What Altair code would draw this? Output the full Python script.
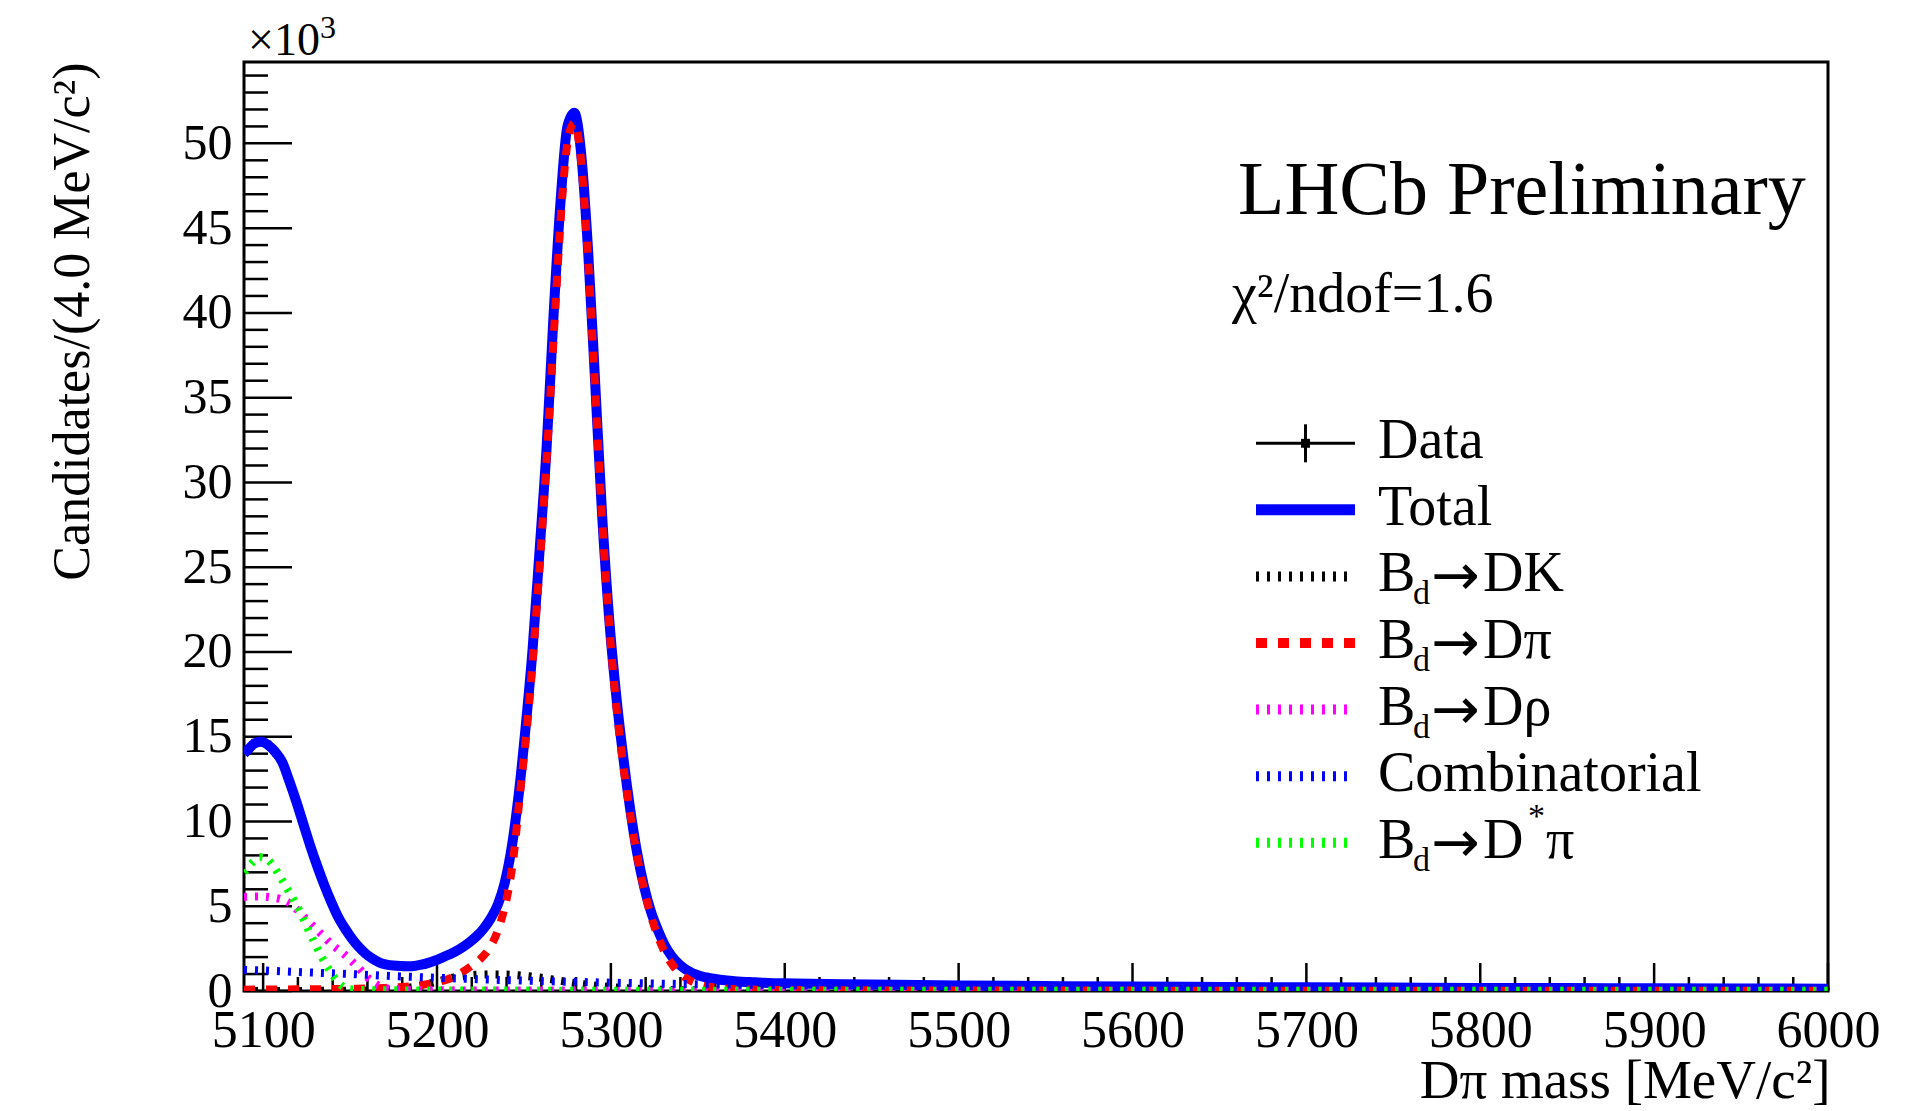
import altair as alt
import pandas as pd
import numpy as np

FONT = "Liberation Serif"
W, H = 1584, 929
XMIN, XMAX = 5089, 6000
YMAX = 54.8

# ---------------- data (values in units of 10^3 candidates) ----------------
# data bins: 4 MeV wide, centres 5091 ... 5999
data_low = [
    14.1, 14.7, 14.6, 14.6, 14.0, 13.6, 12.3, 11.3, 9.8, 8.7,
    7.3, 6.4, 5.2, 4.5, 3.6, 3.1, 2.6, 2.2, 1.9, 1.7,
    1.55, 1.5, 1.46, 1.47, 1.5, 1.54, 1.67, 1.78, 1.99, 2.13,
    2.37, 2.58, 2.92, 3.22, 3.72, 4.28, 5.13, 6.35, 8.55, 11.5,
    15.7, 20.1, 26.1, 31.8, 39.9, 46.3, 51.2, 51.7, 49.4, 43.3,
    36.0, 27.9, 22.1, 17.4, 14.0, 10.7, 8.3, 6.1, 4.75, 3.55,
    2.72, 2.03, 1.62, 1.27, 1.06, 0.89, 0.81, 0.71, 0.67, 0.61,
    0.58, 0.56, 0.52, 0.51, 0.5, 0.47, 0.46, 0.45,
]
data_tail = [
    0.45, 0.44, 0.44, 0.43, 0.42, 0.42, 0.41, 0.41, 0.40, 0.39, 0.39,
    0.38, 0.38, 0.37, 0.37, 0.36, 0.36, 0.35, 0.35, 0.34, 0.34, 0.34, 0.33, 0.33, 0.32,
    0.32, 0.32, 0.31, 0.31, 0.31, 0.30, 0.30, 0.30, 0.29, 0.29, 0.29, 0.28, 0.28, 0.28, 0.28,
    0.27, 0.27, 0.27, 0.27, 0.26, 0.26, 0.26, 0.26, 0.25, 0.25,
    0.25, 0.25, 0.25, 0.24, 0.24, 0.24, 0.24, 0.24, 0.23, 0.23, 0.23, 0.23, 0.23, 0.22, 0.22,
    0.22, 0.22, 0.22, 0.22, 0.21, 0.21, 0.21, 0.21, 0.21, 0.21,
    0.20, 0.20, 0.20, 0.20, 0.20, 0.20, 0.19, 0.19, 0.19, 0.19, 0.19, 0.19, 0.19, 0.18, 0.18,
    0.18, 0.18, 0.18, 0.18, 0.18, 0.17, 0.17, 0.17, 0.17, 0.17,
    0.17, 0.17, 0.17, 0.16, 0.16, 0.16, 0.16, 0.16, 0.16, 0.16, 0.16, 0.16, 0.15, 0.15, 0.15,
    0.15, 0.15, 0.15, 0.15, 0.15, 0.15, 0.15, 0.14, 0.14, 0.14,
    0.14, 0.14, 0.14, 0.14, 0.14, 0.14, 0.14, 0.14, 0.14, 0.13, 0.13, 0.13, 0.13, 0.13, 0.13,
    0.13, 0.13, 0.13, 0.13, 0.13, 0.13, 0.13, 0.13, 0.13, 0.13,
]
data_val = data_low + data_tail
data_mass = [5091 + 4 * i for i in range(len(data_val))]

# total fit
total_low = [
    14.2, 14.6, 14.7, 14.5, 14.1, 13.5, 12.4, 11.2, 9.9, 8.6,
    7.4, 6.3, 5.3, 4.4, 3.7, 3.1, 2.6, 2.2, 1.9, 1.68,
    1.56, 1.5, 1.47, 1.46, 1.48, 1.55, 1.66, 1.8, 1.97, 2.15,
    2.35, 2.6, 2.9, 3.25, 3.7, 4.3, 5.1, 6.4, 8.5, 11.6,
    15.6, 20.2, 26.0, 32.0, 39.8, 46.5, 51.0, 51.8, 49.3, 43.5,
    35.8, 28.0, 22.0, 17.5, 13.9, 10.8, 8.2, 6.2, 4.7, 3.6,
    2.7, 2.05, 1.6, 1.28, 1.05, 0.9, 0.8, 0.72, 0.66, 0.62,
    0.58, 0.55, 0.53, 0.51, 0.49, 0.47, 0.46, 0.45,
]
total_mass = [5089] + [5091 + 4 * i for i in range(len(total_low))] + \
    [5425, 5450, 5500, 5550, 5600, 5650, 5700, 5750, 5800, 5850, 5900, 5950, 6000]
total_val = [14.0] + total_low + \
    [0.41, 0.38, 0.33, 0.29, 0.26, 0.24, 0.22, 0.20, 0.18, 0.17, 0.16, 0.15, 0.14]

# Bd -> DK (misID)
dk_mass = [5089, 5150, 5175, 5190, 5200, 5210, 5220, 5230, 5240, 5250, 5260, 5270,
           5280, 5290, 5300, 5320, 5340, 5370, 5400, 5500, 6000]
dk_val = [0.0, 0.02, 0.1, 0.3, 0.55, 0.8, 0.93, 0.98, 0.97, 0.9, 0.78, 0.62,
          0.46, 0.33, 0.23, 0.11, 0.05, 0.03, 0.02, 0.01, 0.005]

# Bd -> Dpi (signal)
dpi_mass = [5089, 5120, 5150, 5170, 5180, 5190, 5195, 5200, 5205, 5210, 5215, 5220,
            5225, 5230, 5234, 5237, 5240, 5244, 5248, 5252, 5256, 5260, 5264, 5268,
            5272, 5276, 5279, 5282, 5286, 5290, 5294, 5298, 5302, 5306, 5310, 5314,
            5318, 5322, 5326, 5330, 5335, 5340, 5345, 5350, 5360, 5370, 5385, 5400,
            5500, 6000]
dpi_val = [0.08, 0.1, 0.13, 0.18, 0.24, 0.34, 0.42, 0.52, 0.65, 0.85, 1.14, 1.5,
           1.9, 2.5, 3.3, 4.2, 5.4, 7.9, 11.9, 15.8, 20.8, 26.5, 33.0, 40.2,
           46.8, 50.6, 51.2, 49.8, 44.6, 37.3, 29.5, 23.0, 18.0, 14.2, 11.2, 8.6,
           6.5, 4.8, 3.5, 2.5, 1.6, 1.0, 0.65, 0.42, 0.2, 0.12, 0.08, 0.06,
           0.03, 0.01]

# Bd -> Drho
rho_mass = [5089, 5095, 5100, 5105, 5110, 5115, 5120, 5125, 5130, 5135, 5140, 5145,
            5150, 5155, 5160, 5165, 5170, 5175, 5180, 5190, 5200, 5250, 5300, 5400, 6000]
rho_val = [5.55, 5.57, 5.57, 5.52, 5.42, 5.2, 4.75, 4.2, 3.7, 3.2, 2.7, 2.3,
           1.85, 1.35, 0.8, 0.4, 0.18, 0.1, 0.07, 0.05, 0.04, 0.03, 0.02, 0.01, 0.01]

# combinatorial
comb_mass = [5089, 5100, 5125, 5150, 5175, 5200, 5225, 5250, 5275, 5300, 5325, 5350,
             5375, 5400, 5450, 5500, 5550, 5600, 5650, 5700, 5750, 5800, 5850, 5900,
             5950, 6000]
comb_val = [1.25, 1.21, 1.1, 1.0, 0.88, 0.78, 0.69, 0.61, 0.55, 0.49, 0.44, 0.40,
            0.37, 0.35, 0.31, 0.28, 0.25, 0.23, 0.21, 0.20, 0.18, 0.17, 0.16, 0.15,
            0.14, 0.13]

# Bd -> D* pi
dst_mass = [5089, 5094, 5098, 5102, 5106, 5110, 5114, 5118, 5122, 5126, 5130, 5134,
            5138, 5142, 5146, 5150, 5160, 5200, 5300, 6000]
dst_val = [7.0, 7.6, 7.9, 7.8, 7.35, 6.7, 6.0, 5.3, 4.5, 3.6, 2.75, 1.95,
           1.25, 0.65, 0.25, 0.1, 0.05, 0.03, 0.02, 0.01]

x_major = list(range(5100, 6001, 100))
y_major = list(range(0, 51, 5))

# ---------------- scales & axes ----------------
xs = alt.Scale(domain=[XMIN, XMAX], nice=False, zero=False)
ys = alt.Scale(domain=[0, YMAX], nice=False, zero=False)

X_AX = alt.Axis(
    values=x_major, format="d", ticks=False, domain=False, grid=False,
    labelFont=FONT, labelFontSize=52, labelColor="black", labelPadding=14,
    labelFlush=False, labelOverlap=False,
    title="Dπ mass [MeV/c²]", titleFont=FONT, titleFontSize=55,
    titleFontWeight="normal", titleColor="black", titleAnchor="end",
    titleAlign="right", titleBaseline="alphabetic", titleX=W + 2, titleY=106)
Y_AX = alt.Axis(
    values=y_major, format="d", ticks=False, domain=False, grid=False,
    labelFont=FONT, labelFontSize=50, labelColor="black", labelPadding=12,
    labelFlush=False, labelOverlap=False,
    title="Candidates/(4.0 MeV/c²)", titleFont=FONT, titleFontSize=52,
    titleFontWeight="normal", titleColor="black", titleAngle=270,
    titleAlign="right", titleBaseline="alphabetic", titleX=-156, titleY=0)


def X(field):
    return alt.X(field, type="quantitative", scale=xs, axis=X_AX, title="Dπ mass [MeV/c²]")


def Y(field):
    return alt.Y(field, type="quantitative", scale=ys, axis=Y_AX,
                 title="Candidates/(4.0 MeV/c²)")


BLUE, RED, MAG, GREEN = "#0000ff", "#ff0000", "#ff00ff", "#00ff00"
DOT = [3, 8]
DASH = [11, 11]


def curve(mass, val, color, width, dash=None):
    df = pd.DataFrame({"m": mass, "v": val})
    kw = dict(color=color, strokeWidth=width, interpolate="monotone", clip=True,
              strokeCap="butt", strokeJoin="round")
    if dash:
        kw["strokeDash"] = dash
    return alt.Chart(df).mark_line(**kw).encode(x=X("m"), y=Y("v"))


# data points with error bars
ddf = pd.DataFrame({"m": data_mass, "v": data_val})
ddf["lo"] = ddf["v"] - np.sqrt(ddf["v"] * 1000) / 1000
ddf["hi"] = ddf["v"] + np.sqrt(ddf["v"] * 1000) / 1000
ddf["mlo"] = ddf["m"] - 2
ddf["mhi"] = ddf["m"] + 2
data_y = alt.Chart(ddf).mark_rule(color="black", strokeWidth=2).encode(
    x=X("m"), y=Y("lo"), y2="hi:Q")
data_x = alt.Chart(ddf).mark_rule(color="black", strokeWidth=2).encode(
    x=X("mlo"), x2="mhi:Q", y=Y("v"))
data_pt = alt.Chart(ddf).mark_square(color="black", size=36, opacity=1).encode(
    x=X("m"), y=Y("v"))

# inward ticks
ymaj_df = pd.DataFrame({"v": y_major})
ymin_df = pd.DataFrame({"v": [v for v in range(1, 55) if v % 5]})
xmaj_df = pd.DataFrame({"m": x_major})
xmin_df = pd.DataFrame({"m": [v for v in range(5100, 6001, 20) if v % 100]})
tk = dict(color="black", strokeWidth=2.5)
ytick_maj = alt.Chart(ymaj_df).mark_rule(**tk).encode(
    y=Y("v"), x=alt.value(0), x2=alt.value(48))
ytick_min = alt.Chart(ymin_df).mark_rule(**tk).encode(
    y=Y("v"), x=alt.value(0), x2=alt.value(24))
xtick_maj = alt.Chart(xmaj_df).mark_rule(**tk).encode(
    x=X("m"), y=alt.value(H), y2=alt.value(H - 28))
xtick_min = alt.Chart(xmin_df).mark_rule(**tk).encode(
    x=X("m"), y=alt.value(H), y2=alt.value(H - 14))

one = pd.DataFrame({"a": [0]})


def txt(s, x, y, size, align="left", baseline="alphabetic", font=FONT):
    return alt.Chart(one).mark_text(
        text=s, font=font, fontSize=size, color="black", align=align,
        baseline=baseline).encode(x=alt.value(x), y=alt.value(y))


def hline(x1, x2, y, color, width, dash=None):
    kw = dict(color=color, strokeWidth=width, strokeCap="butt")
    if dash:
        kw["strokeDash"] = dash
    return alt.Chart(one).mark_rule(**kw).encode(
        x=alt.value(x1), x2=alt.value(x2), y=alt.value(y))


# labels
labels = [
    txt("LHCb Preliminary", 994, 152, 76),
    txt("χ²/ndof=1.6", 988, 250, 56),
    txt("×10", 4, -7, 46),
    txt("3", 76, -24, 32),
]

# legend
LX1, LX2, TX = 1012, 1111, 1134
R0, STEP = 381.3, 66.57
FS, SUB = 56, 34
rows = [R0 + i * STEP for i in range(7)]
leg = []
r = rows[0]
leg += [hline(LX1, LX2, r, "black", 3),
        alt.Chart(one).mark_rule(color="black", strokeWidth=3).encode(
            x=alt.value((LX1 + LX2) / 2), y=alt.value(r - 19), y2=alt.value(r + 19)),
        alt.Chart(one).mark_square(color="black", size=80, opacity=1).encode(
            x=alt.value((LX1 + LX2) / 2), y=alt.value(r)),
        txt("Data", TX, r + 15, FS)]
leg += [hline(LX1, LX2, rows[1], BLUE, 11), txt("Total", TX, rows[1] + 15, FS)]


def bd(row, rest, color, dash, width=10):
    return [hline(LX1, LX2, row, color, width, dash),
            txt("B", TX, row + 15, FS),
            txt("d", TX + 35, row + 28, SUB),
            txt("→", TX + 53, row + 19, 58, font="DejaVu Sans"),
            txt(rest, TX + 105, row + 15, FS)]


leg += bd(rows[2], "DK", "black", DOT)
leg += bd(rows[3], "Dπ", RED, DASH)
leg += bd(rows[4], "Dρ", MAG, DOT)
leg += [hline(LX1, LX2, rows[5], BLUE, 10, DOT), txt("Combinatorial", TX, rows[5] + 15, FS)]
leg += bd(rows[6], "D", GREEN, DOT)
leg += [txt("*", TX + 150, rows[6] - 16, SUB), txt("π", TX + 168, rows[6] + 15, FS)]

layers = [
    ytick_maj, ytick_min, xtick_maj, xtick_min,
    data_y, data_x, data_pt,
    curve(total_mass, total_val, BLUE, 10),
    curve(dk_mass, dk_val, "black", 8, DOT),
    curve(dpi_mass, dpi_val, RED, 8, DASH),
    curve(rho_mass, rho_val, MAG, 8, DOT),
    curve(comb_mass, comb_val, BLUE, 8, DOT),
    curve(dst_mass, dst_val, GREEN, 8, DOT),
] + labels + leg

chart = alt.layer(*layers).properties(
    width=W, height=H,
    autosize=alt.AutoSizeParams(type="none"),
    padding={"left": 244, "top": 62, "right": 89, "bottom": 120},
    background="white",
).configure_view(stroke="black", strokeWidth=3)

chart.save("out.html", embed_options={"renderer": "svg", "actions": False})
